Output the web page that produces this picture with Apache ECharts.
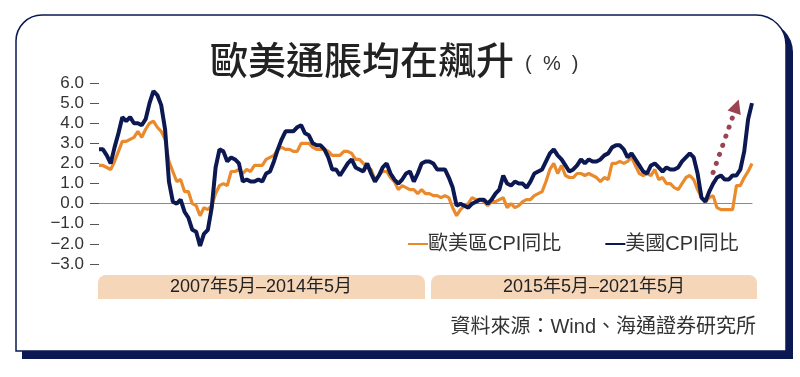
<!DOCTYPE html>
<html>
<head>
<meta charset="utf-8">
<script src="https://cdn.jsdelivr.net/npm/echarts@6/dist/echarts.min.js"></script>
<style>
html,body{margin:0;padding:0;background:#fff}
#chart{width:800px;height:377px}
</style>
</head>
<body>
<div id="chart"></div>
<script>
// 月份：2007年5月 ~ 2021年5月
var months = [];
for (var y = 2007; y <= 2021; y++) {
  for (var m = 1; m <= 12; m++) {
    if ((y === 2007 && m < 5) || (y === 2021 && m > 5)) continue;
    months.push(y + '-' + (m < 10 ? '0' + m : m));
  }
}

// 歐美區CPI同比
var euroCpi = [
  1.9,1.9,1.8,1.7,2.1,2.6,3.1,3.1,
  3.2,3.3,3.6,3.3,3.7,4.0,4.1,3.8,3.6,3.2,2.1,1.6,
  1.1,1.2,0.6,0.6,0.0,-0.1,-0.6,-0.2,-0.3,-0.1,0.5,0.9,
  1.0,0.9,1.6,1.6,1.7,1.5,1.7,1.6,1.9,1.9,1.9,2.2,
  2.3,2.4,2.7,2.8,2.7,2.7,2.6,2.6,3.0,3.0,3.0,2.8,
  2.7,2.7,2.7,2.6,2.4,2.4,2.4,2.6,2.6,2.5,2.2,2.2,
  2.0,1.8,1.7,1.2,1.4,1.6,1.6,1.3,1.1,0.7,0.9,0.8,
  0.7,0.7,0.5,0.7,0.5,0.5,0.4,0.4,0.3,0.4,0.3,-0.2,
  -0.6,-0.3,-0.1,0.0,0.3,0.2,0.2,0.1,-0.1,0.1,0.1,0.2,
  0.3,-0.2,0.0,-0.2,-0.1,0.1,0.2,0.2,0.4,0.5,0.6,1.1,
  1.7,2.0,1.5,1.9,1.4,1.3,1.3,1.5,1.5,1.4,1.5,1.4,
  1.3,1.1,1.3,1.2,2.0,2.0,2.1,2.0,2.1,2.3,1.9,1.5,
  1.4,1.5,1.4,1.7,1.2,1.3,1.0,1.0,0.8,0.7,1.0,1.3,
  1.4,1.2,0.7,0.3,0.1,0.3,0.4,-0.2,-0.3,-0.3,-0.3,-0.3,
  0.9,0.9,1.3,1.6,2.0
];

// 美國CPI同比
var usCpi = [
  2.7,2.7,2.4,2.0,2.8,3.5,4.3,4.1,
  4.3,4.0,4.0,3.9,4.2,5.0,5.6,5.4,4.9,3.7,1.1,0.1,
  0.0,0.2,-0.4,-0.7,-1.3,-1.4,-2.1,-1.5,-1.3,-0.2,1.8,2.7,
  2.6,2.1,2.3,2.2,2.0,1.1,1.2,1.1,1.1,1.2,1.1,1.5,
  1.6,2.1,2.7,3.2,3.6,3.6,3.6,3.8,3.9,3.5,3.4,3.0,
  2.9,2.9,2.7,2.3,1.7,1.7,1.4,1.7,2.0,2.2,1.8,1.7,
  1.6,2.0,1.5,1.1,1.4,1.8,2.0,1.5,1.2,1.0,1.2,1.5,
  1.6,1.1,1.5,2.0,2.1,2.1,2.0,1.7,1.7,1.7,1.3,0.8,
  -0.1,0.0,-0.1,-0.2,0.0,0.1,0.2,0.2,0.0,0.2,0.5,0.7,
  1.4,1.0,0.9,1.1,1.0,1.0,0.8,1.1,1.5,1.6,1.7,2.1,
  2.5,2.7,2.4,2.2,1.9,1.6,1.7,1.9,2.2,2.0,2.2,2.1,
  2.1,2.2,2.4,2.5,2.8,2.9,2.9,2.7,2.3,2.5,2.2,1.9,
  1.6,1.5,1.9,2.0,1.8,1.6,1.8,1.7,1.7,1.8,2.1,2.3,
  2.5,2.3,1.5,0.3,0.1,0.6,1.0,1.3,1.4,1.2,1.2,1.4,
  1.4,1.7,2.6,4.2,5.0
];

// 上升箭頭（起點、終點）
var arrowFrom = ['2020-07', 1.55];
var arrowTo = ['2021-01', 4.85];

var bandLabels = ['2007年5月–2014年5月', '2015年5月–2021年5月'];
var yTicks = { min: -3, max: 6, step: 1 };

var font = "'Liberation Sans','Noto Sans CJK TC',sans-serif";
var navy = '#0c1852';
var orange = '#ea8a2c';

var myChart = echarts.init(document.getElementById('chart'));
var option = {
  animation: false,
  title: {
    left: 205,
    top: 36,
    text: '{a|歐美通脹均在飆升}{b|  (  %  )}',
    textStyle: {
      rich: {
        a: { fontSize: 38, fontWeight: 500, color: '#222', fontFamily: "'Noto Sans CJK TC',sans-serif" },
        b: { fontSize: 20, fontWeight: 'normal', color: '#333', fontFamily: font, padding: [8, 0, 0, 0] }
      }
    }
  },
  legend: {
    left: 403,
    top: 229,
    icon: 'rect',
    itemWidth: 20,
    itemHeight: 2,
    itemGap: 44,
    textStyle: { fontSize: 20, color: '#333', fontFamily: font, padding: [0, 0, 0, -5] },
    data: ['歐美區CPI同比', '美國CPI同比']
  },
  grid: { left: 99, right: 48, top: 83, bottom: 113 },
  xAxis: {
    type: 'category',
    data: months,
    boundaryGap: false,
    axisLine: { onZero: true, lineStyle: { color: '#8a8a8a', width: 1 } },
    axisTick: { show: false },
    axisLabel: { show: false },
    splitLine: { show: false }
  },
  yAxis: {
    type: 'value',
    min: yTicks.min,
    max: yTicks.max,
    interval: yTicks.step,
    axisLine: { show: false },
    axisTick: { show: true, length: 9, lineStyle: { color: '#555' } },
    splitLine: { show: false },
    axisLabel: {
      margin: 15,
      fontSize: 17,
      color: '#333',
      fontFamily: font,
      formatter: function (v) { return (v < 0 ? '−' : '') + Math.abs(v).toFixed(1); }
    }
  },
  series: [
    {
      name: '歐美區CPI同比',
      type: 'line',
      data: euroCpi,
      showSymbol: false,
      lineStyle: { color: orange, width: 3.2 },
      itemStyle: { color: orange }
    },
    {
      name: '美國CPI同比',
      type: 'line',
      data: usCpi,
      showSymbol: false,
      lineStyle: { color: navy, width: 4 },
      itemStyle: { color: navy },
      markLine: {
        silent: true,
        symbol: ['none', 'triangle'],
        symbolSize: [14, 14],
        label: { show: false },
        lineStyle: { color: '#9a4452', width: 5, type: [0.1, 9.5], cap: 'round' },
        data: [[{ coord: arrowFrom }, { coord: arrowTo }]]
      }
    }
  ],
  graphic: [
    { type: 'rect', z: -20, shape: { x: 22, y: 22, width: 771, height: 337, r: [26, 30, 0, 0] }, style: { fill: navy } },
    { type: 'rect', z: -19, shape: { x: 16, y: 15, width: 770, height: 336, r: [26, 30, 0, 0] }, style: { fill: '#fff', stroke: navy, lineWidth: 1.5 } },
    { type: 'rect', z: -5, shape: { x: 98, y: 275, width: 327, height: 24, r: [8, 8, 0, 0] }, style: { fill: '#f6d6b8' } },
    { type: 'rect', z: -5, shape: { x: 431, y: 275, width: 326, height: 24, r: [8, 8, 0, 0] }, style: { fill: '#f6d6b8' } },
    { type: 'text', x: 261, y: 287, style: { text: bandLabels[0], fontSize: 18, fill: '#222', fontFamily: font, align: 'center', verticalAlign: 'middle' } },
    { type: 'text', x: 594, y: 287, style: { text: bandLabels[1], fontSize: 18, fill: '#222', fontFamily: font, align: 'center', verticalAlign: 'middle' } },
    { type: 'text', x: 756, y: 327, style: { text: '資料來源：Wind、海通證券研究所', fontSize: 20, fill: '#333', fontFamily: font, align: 'right', verticalAlign: 'middle' } }
  ]
};
myChart.setOption(option);
window.addEventListener('resize', function () { myChart.resize(); });
</script>
</body>
</html>
